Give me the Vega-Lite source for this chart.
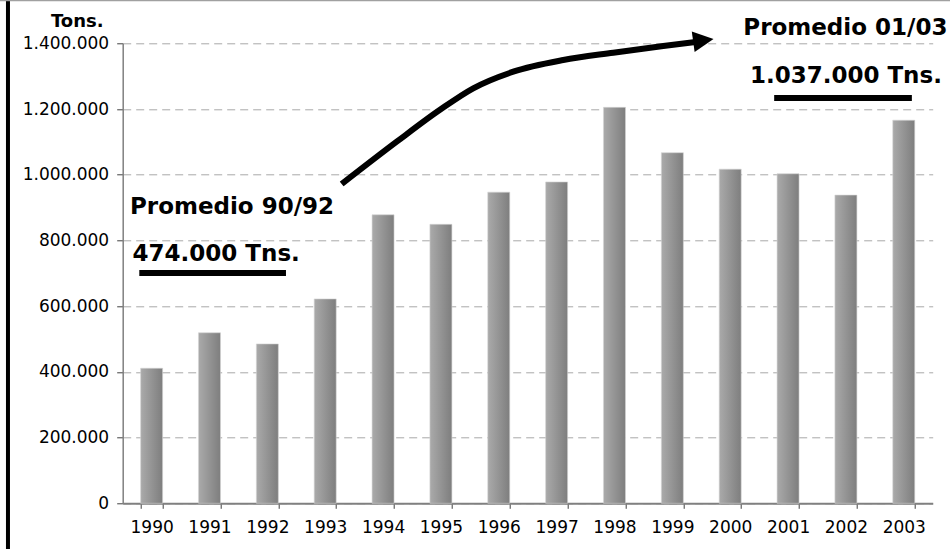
{
  "$schema": "https://vega.github.io/schema/vega-lite/v6.json",
  "width": 810,
  "height": 460,
  "autosize": "none",
  "padding": {"left": 122.7, "top": 43.3, "right": 17.3, "bottom": 45.7},
  "background": "white",
  "config": {
    "view": {"stroke": null},
    "font": "DejaVu Sans"
  },
  "datasets": {
    "bars": [
      {"year": "1990", "tons": 411000},
      {"year": "1991", "tons": 519000},
      {"year": "1992", "tons": 485000},
      {"year": "1993", "tons": 622000},
      {"year": "1994", "tons": 878000},
      {"year": "1995", "tons": 849000},
      {"year": "1996", "tons": 947000},
      {"year": "1997", "tons": 978000},
      {"year": "1998", "tons": 1205000},
      {"year": "1999", "tons": 1067000},
      {"year": "2000", "tons": 1017000},
      {"year": "2001", "tons": 1003000},
      {"year": "2002", "tons": 938000},
      {"year": "2003", "tons": 1166000}
    ],
    "arrow": [
      {"pos": 3.785, "v": 971800},
      {"pos": 4.736, "v": 1100500},
      {"pos": 5.484, "v": 1197600},
      {"pos": 6.059, "v": 1263000},
      {"pos": 6.751, "v": 1313600},
      {"pos": 7.615, "v": 1349200},
      {"pos": 8.479, "v": 1371400},
      {"pos": 9.343, "v": 1391800},
      {"pos": 9.9, "v": 1404000}
    ],
    "head": [
      {"pos": 10.036, "v": 1409000}
    ],
    "underlines": [
      {"pos": 0.287, "pos2": 2.822, "v": 700900},
      {"pos": 11.26, "pos2": 13.64, "v": 1233500}
    ],
    "labels": [
      {"pos": 1.889, "v": 880500, "text": "Promedio 90/92"},
      {"pos": 1.616, "v": 737400, "text": "474.000 Tns."},
      {"pos": 12.49, "v": 1425300, "text": "Promedio 01/03"},
      {"pos": 12.5, "v": 1279000, "text": "1.037.000 Tns."}
    ],
    "frameLeft": [
      {"pos": -1.983, "v": -140000, "v2": 1532000}
    ],
    "frameTop": [
      {"pos": -2.2, "pos2": 14.4, "v": 1530300}
    ]
  },
  "resolve": {"scale": {"x": "independent"}},
  "layer": [
    {
      "data": {"name": "bars"},
      "mark": {
        "type": "bar",
        "color": {
          "gradient": "linear", "x1": 0, "y1": 0, "x2": 1, "y2": 0,
          "stops": [
            {"offset": 0, "color": "#aaaaaa"},
            {"offset": 1, "color": "#7e7e7e"}
          ]
        },
        "stroke": "#d4d4d4",
        "strokeWidth": 0.6
      },
      "encoding": {
        "x": {
          "field": "year", "type": "ordinal",
          "scale": {"paddingInner": 0.62, "paddingOuter": 0.31},
          "axis": {
            "title": null, "labelAngle": 0, "labelFontSize": 17, "labelColor": "#000",
            "labelFont": "DejaVu Sans",
            "labelPadding": 11, "tickBand": "extent", "tickSize": 5, "tickColor": "#404040",
            "domainColor": "#808080", "domainWidth": 2, "grid": false
          }
        },
        "y": {
          "field": "tons", "type": "quantitative",
          "scale": {"domain": [0, 1400000], "nice": false},
          "axis": {
            "values": [0, 200000, 400000, 600000, 800000, 1000000, 1200000, 1400000],
            "labelExpr": "replace(format(datum.value, ','), regexp(',', 'g'), '.')",
            "labelFontSize": 17, "labelColor": "#000", "labelPadding": 8, "labelFont": "DejaVu Sans",
            "tickSize": 6, "tickColor": "#404040",
            "domainColor": "#808080", "domainWidth": 1.5,
            "grid": true, "gridDash": [8, 5], "gridColor": "#a8a8a8", "gridWidth": 1,
            "title": "Tons.", "titleAngle": 0, "titleAlign": "center", "titleBaseline": "alphabetic",
            "titleX": -46, "titleY": -17, "titleFontSize": 18, "titleFontWeight": "bold",
            "titleColor": "#000", "titleFont": "DejaVu Sans"
          }
        }
      }
    },
    {
      "data": {"name": "arrow"},
      "mark": {"type": "line", "color": "#000", "strokeWidth": 6, "interpolate": "monotone", "strokeCap": "butt"},
      "encoding": {
        "x": {"field": "pos", "type": "quantitative", "scale": {"domain": [0, 14], "nice": false, "zero": false}, "axis": null},
        "y": {"field": "v", "type": "quantitative"}
      }
    },
    {
      "data": {"name": "head"},
      "mark": {"type": "point", "shape": "M-1,-1L1,0L-1,1Z", "size": 420, "filled": true, "color": "#000", "opacity": 1, "angle": 352},
      "encoding": {
        "x": {"field": "pos", "type": "quantitative", "scale": {"domain": [0, 14], "nice": false, "zero": false}, "axis": null},
        "y": {"field": "v", "type": "quantitative"}
      }
    },
    {
      "data": {"name": "underlines"},
      "mark": {"type": "rule", "color": "#000", "strokeWidth": 6},
      "encoding": {
        "x": {"field": "pos", "type": "quantitative", "scale": {"domain": [0, 14], "nice": false, "zero": false}, "axis": null},
        "x2": {"field": "pos2"},
        "y": {"field": "v", "type": "quantitative"}
      }
    },
    {
      "data": {"name": "labels"},
      "mark": {"type": "text", "font": "DejaVu Sans", "fontWeight": "bold", "fontSize": 23, "align": "center", "baseline": "alphabetic", "color": "#000"},
      "encoding": {
        "x": {"field": "pos", "type": "quantitative", "scale": {"domain": [0, 14], "nice": false, "zero": false}, "axis": null},
        "y": {"field": "v", "type": "quantitative"},
        "text": {"field": "text"}
      }
    },
    {
      "data": {"name": "frameLeft"},
      "mark": {"type": "rule", "color": "#000", "strokeWidth": 4},
      "encoding": {
        "x": {"field": "pos", "type": "quantitative", "scale": {"domain": [0, 14], "nice": false, "zero": false}, "axis": null},
        "y": {"field": "v", "type": "quantitative"},
        "y2": {"field": "v2"}
      }
    },
    {
      "data": {"name": "frameTop"},
      "mark": {"type": "rule", "color": "#a0a0a0", "strokeWidth": 1.5},
      "encoding": {
        "x": {"field": "pos", "type": "quantitative", "scale": {"domain": [0, 14], "nice": false, "zero": false}, "axis": null},
        "x2": {"field": "pos2"},
        "y": {"field": "v", "type": "quantitative"}
      }
    }
  ]
}
